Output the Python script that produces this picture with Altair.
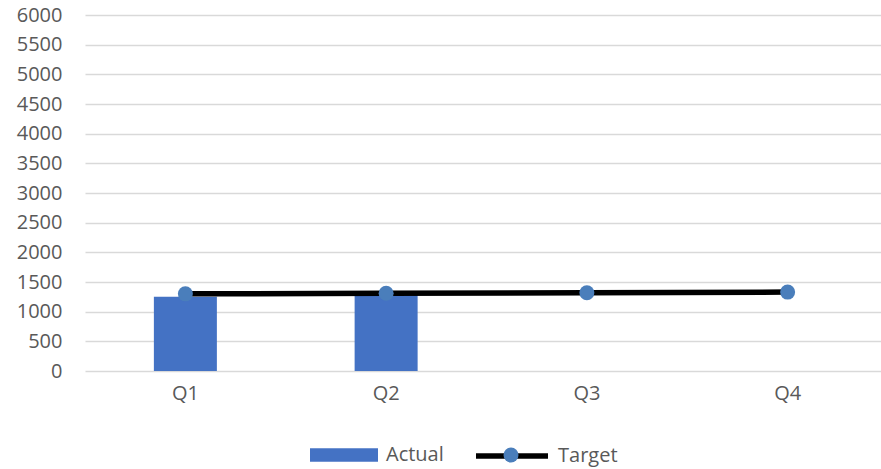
import altair as alt
import pandas as pd

# Quarterly actuals vs. target
quarters = ["Q1", "Q2", "Q3", "Q4"]
actual = [1250, 1280, None, None]
target = [1300, 1310, 1320, 1330]
y_ticks = list(range(0, 6001, 500))

df = pd.DataFrame({"quarter": quarters, "actual": actual, "target": target})

FONT = "Open Sans"
TEXT = "#595959"
BAR = "#4472C4"
DOT = "#4A7EBB"
FS = 20

x = alt.X(
    "quarter:N",
    sort=quarters,
    title=None,
    scale=alt.Scale(range=[0, 803], paddingInner=0, paddingOuter=0),
    axis=alt.Axis(labelAngle=0, domain=False, ticks=False, labelPadding=12),
)
y_scale = alt.Scale(domain=[0, 6000], nice=False)
y_axis = alt.Axis(values=y_ticks, format="d", labelOverlap=False,
                  domain=False, ticks=False, labelPadding=23,
                  grid=True, gridColor="#d9d9d9", gridWidth=1.5)

base = alt.Chart(df)

bars = base.mark_bar(size=63).encode(
    x=x,
    y=alt.Y("actual:Q", scale=y_scale, title=None, axis=y_axis),
    fill=alt.Fill(
        "s:N",
        scale=alt.Scale(domain=["Actual"], range=[BAR]),
        legend=alt.Legend(
            orient="none", legendX=225, legendY=406, title=None,
            symbolType="M-1,-0.2H1V0.2H-1Z", symbolSize=4624,
            symbolStrokeWidth=0, symbolOpacity=1, labelOffset=8, padding=0,
        ),
    ),
).transform_calculate(s="'Actual'")

line = base.mark_line(strokeWidth=5.5).encode(
    x=x,
    y=alt.Y("target:Q", scale=y_scale, title=None, axis=y_axis),
    stroke=alt.Stroke(
        "s:N",
        scale=alt.Scale(domain=["Target"], range=["black"]),
        legend=alt.Legend(
            orient="none", legendX=388, legendY=402, title=None,
            symbolType="stroke", symbolSize=5184, symbolStrokeWidth=5.5,
            labelOffset=7, padding=0,
        ),
    ),
).transform_calculate(s="'Target'")

dots = base.mark_point(filled=True, size=225, opacity=1).encode(
    x=x,
    y=alt.Y("target:Q", scale=y_scale, title=None, axis=y_axis),
    color=alt.Color(
        "s:N",
        scale=alt.Scale(domain=["Target"], range=[DOT]),
        legend=alt.Legend(
            orient="none", legendX=416, legendY=430, title=None,
            symbolType="circle", symbolSize=225, symbolOpacity=1,
            labelExpr="''", padding=0,
        ),
    ),
).transform_calculate(s="'Target'")

chart = (
    alt.layer(bars, line, dots)
    .resolve_scale(fill="independent", stroke="independent", color="independent")
    .properties(
        width=796,
        height=356,
        autosize=alt.AutoSizeParams(type="none"),
        padding={"left": 85, "top": 15, "right": 0, "bottom": 98},
    )
    .configure(font=FONT)
    .configure_view(stroke=None)
    .configure_axis(labelFont=FONT, labelFontSize=FS, labelColor=TEXT)
    .configure_legend(labelFont=FONT, labelFontSize=FS, labelColor=TEXT)
)

chart.save("out.html", embed_options={"renderer": "svg", "actions": False})
